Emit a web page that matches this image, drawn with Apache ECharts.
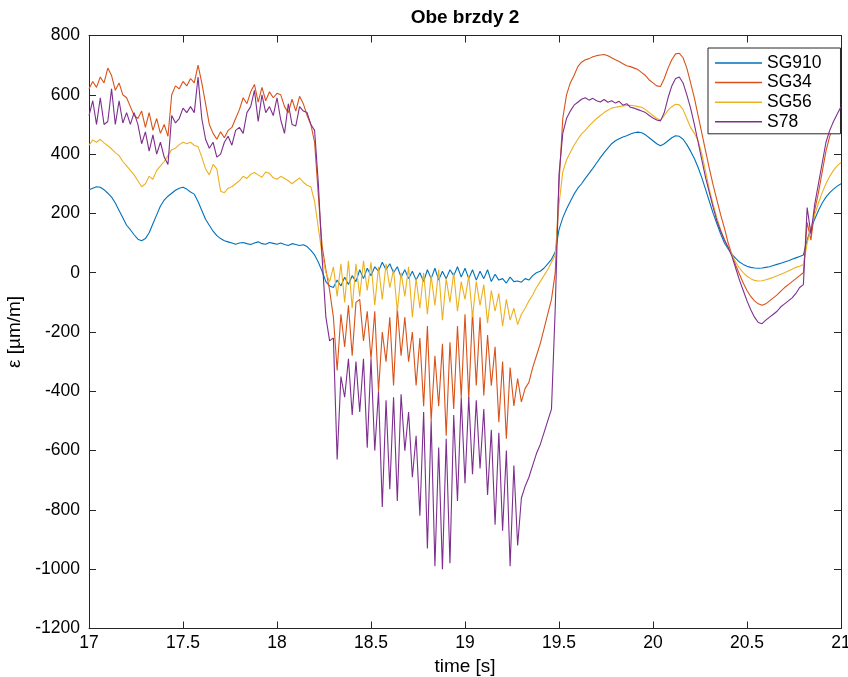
<!DOCTYPE html>
<html>
<head>
<meta charset="utf-8">
<script src="https://cdn.jsdelivr.net/npm/echarts@6/dist/echarts.min.js"></script>
<style>
  html, body { margin: 0; padding: 0; background: #ffffff; }
  #chart { width: 848px; height: 677px; }
</style>
</head>
<body>
<div id="chart"></div>
<script>
// Strain gauge recordings, sampled every 0.02 s from 17.00 s to 21.00 s
const T_START = 17;
const T_STEP = 0.02;

const seriesNames = ['SG910', 'SG34', 'SG56', 'S78'];
const seriesColors = ['#0072BD', '#D95319', '#EDB120', '#7E2F8E'];

const xTicks = [17, 17.5, 18, 18.5, 19, 19.5, 20, 20.5, 21];
const yTicks = [-1200, -1000, -800, -600, -400, -200, 0, 200, 400, 600, 800];

const sg910 = [
  280, 285, 290, 288, 280, 268, 255, 235, 210, 185,
  160, 145, 128, 113, 108, 115, 135, 165, 195, 225,
  245, 258, 268, 278, 285, 288, 282, 272, 265, 240,
  210, 180, 160, 140, 125, 115, 108, 104, 100, 96,
  100, 102, 98, 95, 100, 104, 98, 96, 102, 99,
  96, 100, 95, 92, 98, 95, 92, 94, 88, 75,
  60, 35, 5, -30, -45, -50, -25, -45, -15, -40,
  -10, -30, 10, -20, 15, -10, 20, 5, 35, 10,
  30, 0, 20, -15, 10, -20, 5, -25, 0, -30,
  10, -20, 15, -25, 5, -20, 10, -10, 20, -15,
  15, -20, 10, -25, 5, -20, 10, -30, -5, -25,
  -20, -35, -15, -30, -28, -32, -20, -25, -10, 0,
  5, 15, 30, 45, 70, 145, 185, 215, 240, 265,
  285, 300, 318, 335, 352, 370, 388, 405, 420, 435,
  445, 452, 458, 462, 468, 472, 474, 472, 465, 455,
  445, 435, 428, 435, 445, 455, 462, 460, 450, 432,
  410, 385, 355, 320, 280, 240, 200, 165, 130, 100,
  80, 62, 48, 36, 28, 22, 18, 16, 15, 16,
  18, 20, 24, 28, 32, 36, 40, 45, 50, 55,
  60, 110, 150, 180, 210, 235, 255, 270, 282, 292,
  300
];

const sg34 = [
  620, 645, 625, 660, 640, 690, 665, 615, 640, 600,
  590, 560, 530, 520, 545, 490, 540, 480, 520, 470,
  500, 460, 600, 630, 620, 645, 630, 655, 640, 700,
  640, 570, 500, 470, 450, 475, 455, 480, 490, 520,
  550, 590, 570, 610, 635, 575, 625, 580, 610, 590,
  605, 600, 560, 540, 585, 545, 595, 570, 530, 500,
  440, 260, 90, 10, -60, -150, -330, -140, -250, -110,
  -280, -100, -90, -230, -130, -290, -130, -400, -200, -300,
  -150, -380, -120, -280, -150, -300, -200, -380, -220, -450,
  -180, -500, -280, -450, -240, -550, -235, -460, -180, -420,
  -140, -425, -130, -380, -150, -414, -210, -381, -250, -504,
  -300, -560, -320, -449, -357, -436, -390, -370, -320, -280,
  -240, -190, -140, -90, 0, 300, 520, 600, 640, 665,
  695, 710, 718, 722, 728, 732, 734, 736, 732, 725,
  718, 712, 705, 698, 695, 690, 685, 675, 665, 650,
  640, 630, 628, 655, 690, 718, 738, 740, 725, 690,
  640, 590, 530, 470, 410, 350, 295, 245, 195, 150,
  100, 60, 25, -5, -35, -60, -80, -95, -105, -110,
  -105, -95, -85, -75, -62, -50, -40, -30, -20, -10,
  0, 170, 110, 210, 270, 340, 410, 460, 500, 535,
  570
];

const sg56 = [
  430, 448, 440, 450, 438, 428, 418, 405, 395, 375,
  360, 345, 330, 310, 290, 300, 325, 315, 345, 360,
  375, 395, 415, 420, 432, 440, 435, 440, 430, 425,
  390, 350, 330, 365, 350, 275, 270, 285, 290, 300,
  310, 325, 318, 332, 338, 330, 322, 340, 335, 320,
  315, 325, 318, 310, 300, 310, 320, 305, 295, 290,
  240, 150, 60, 0, -30, 20, -80, 30, -100, 40,
  -120, 30, -80, 40, -60, 35, -110, 20, -90, 30,
  -50, 10, -130, 0, -80, 20, -150, -20, -120, 0,
  -140, -10, -110, 10, -160, -20, -100, 0, -130, -30,
  -90, -10, -150, -30, -110, -40, -170, -60, -130, -70,
  -180, -90, -160, -120, -175, -140, -120, -95, -75, -50,
  -30, -10, 10, 35, 60, 230, 340, 380, 405, 430,
  450, 468, 480, 495, 508, 520, 530, 540, 548, 555,
  558, 560, 562, 564, 565, 563, 560, 558, 550, 540,
  530, 520, 515, 530, 548, 560, 568, 566, 550, 520,
  490, 470, 445, 400, 340, 280, 230, 185, 145, 112,
  85, 60, 35, 15, 0, -12, -20, -26, -28, -27,
  -24, -20, -15, -10, -5, 0, 6, 12, 18, 22,
  28, 100, 150, 195, 235, 270, 300, 325, 345, 360,
  372
];

const s78 = [
  530, 580, 500, 590, 500, 510, 620, 500, 580, 505,
  540, 500, 540, 500, 435, 475, 410, 465, 400, 440,
  390, 365, 530, 505, 520, 555, 540, 560, 540, 660,
  520, 450, 420, 440, 390, 400, 440, 460, 430, 480,
  490, 470, 540, 560, 615, 510, 600, 540, 560, 530,
  590, 515, 470, 570, 500, 495, 560, 545, 540, 500,
  480, 300, 50, -150, -230, -220, -630, -350, -420, -290,
  -480, -300, -470, -290, -590, -290, -600, -400, -790, -430,
  -730, -420, -770, -410, -600, -470, -690, -550, -820, -470,
  -930, -500, -990, -590, -1000, -560, -980, -480, -770, -420,
  -710, -420, -680, -430, -660, -460, -750, -530, -850, -540,
  -870, -600, -990, -650, -920, -760, -720, -690, -650, -610,
  -580, -540, -500, -460, -120, 330, 470, 520, 545, 565,
  575, 585, 590, 582, 588, 580, 576, 584, 575, 580,
  572, 578, 565, 570, 558, 555, 550, 545, 540, 530,
  522, 515, 512, 540, 590, 630, 655, 660, 640, 600,
  555, 500, 440, 380, 320, 270, 220, 175, 140, 110,
  85, 55, 15, -25, -60, -95, -125, -150, -168, -172,
  -160, -150, -140, -130, -115, -105, -95, -85, -70, -50,
  -40, 220, 130, 230, 300, 370, 440, 480, 510, 535,
  560
];

const seriesValues = [sg910, sg34, sg56, s78];

const FONT = 'Helvetica, "Liberation Sans", Arial, sans-serif';
const INK = '#262626';
const TICK_FONT = 17.5;
const LABEL_FONT = 19;

function pairs(values) {
  return values.map((v, i) => [+(T_START + i * T_STEP).toFixed(2), v]);
}

const xMin = xTicks[0], xMax = xTicks[xTicks.length - 1];
const yMin = yTicks[0], yMax = yTicks[yTicks.length - 1];

// Full box around the plot, ticks pointing inward on all four sides
function frameAxis(extra) {
  return Object.assign({
    axisLine: { show: true, onZero: false, lineStyle: { color: INK, width: 1 } },
    axisTick: { show: true, inside: true, length: 7, lineStyle: { color: INK, width: 1 } },
    splitLine: { show: false }
  }, extra);
}

const chart = echarts.init(document.getElementById('chart'), null, { renderer: 'canvas' });

chart.setOption({
  backgroundColor: '#ffffff',
  animation: false,
  title: {
    text: 'Obe brzdy 2',
    left: 460,
    top: 3,
    textAlign: 'center',
    textStyle: { fontFamily: FONT, fontSize: LABEL_FONT, fontWeight: 'bold', color: '#000000' }
  },
  grid: {
    left: 89, top: 35.5, width: 752, height: 593,
    containLabel: false, outerBoundsMode: 'none'
  },
  legend: {
    data: seriesNames,
    orient: 'vertical',
    left: 708,
    top: 48,
    icon: 'rect',
    itemWidth: 47,
    itemHeight: 1.5,
    itemGap: 1.6,
    padding: [6, 19, 3, 7],
    borderColor: INK,
    borderWidth: 1,
    borderRadius: 0,
    backgroundColor: '#ffffff',
    itemStyle: { borderWidth: 0 },
    textStyle: { fontFamily: FONT, fontSize: TICK_FONT, color: '#000000', lineHeight: 18 }
  },
  xAxis: [
    frameAxis({
      type: 'value', position: 'bottom', min: xMin, max: xMax, interval: xTicks[1] - xTicks[0],
      name: 'time [s]', nameLocation: 'middle', nameGap: 26,
      nameTextStyle: { fontFamily: FONT, fontSize: LABEL_FONT, color: '#000000' },
      axisLabel: { fontFamily: FONT, fontSize: TICK_FONT, color: '#000000', margin: 6, formatter: v => String(v) }
    }),
    frameAxis({
      type: 'value', position: 'top', min: xMin, max: xMax, interval: xTicks[1] - xTicks[0],
      axisLabel: { show: false }
    })
  ],
  yAxis: [
    frameAxis({
      type: 'value', position: 'left', min: yMin, max: yMax, interval: yTicks[1] - yTicks[0],
      name: 'ε [µm/m]', nameLocation: 'middle', nameGap: 61, nameRotate: 90,
      nameTextStyle: { fontFamily: FONT, fontSize: LABEL_FONT, color: '#000000' },
      axisLabel: { fontFamily: FONT, fontSize: TICK_FONT, color: '#000000', margin: 9, formatter: v => String(v) }
    }),
    frameAxis({
      type: 'value', position: 'right', min: yMin, max: yMax, interval: yTicks[1] - yTicks[0],
      axisLabel: { show: false }
    })
  ],
  series: seriesNames.map((name, k) => ({
    name: name,
    type: 'line',
    xAxisIndex: 0,
    yAxisIndex: 0,
    data: pairs(seriesValues[k]),
    showSymbol: false,
    symbol: 'none',
    smooth: false,
    itemStyle: { color: seriesColors[k] },
    lineStyle: { color: seriesColors[k], width: 1.1 },
    z: 2 + k
  }))
});
</script>
</body>
</html>
